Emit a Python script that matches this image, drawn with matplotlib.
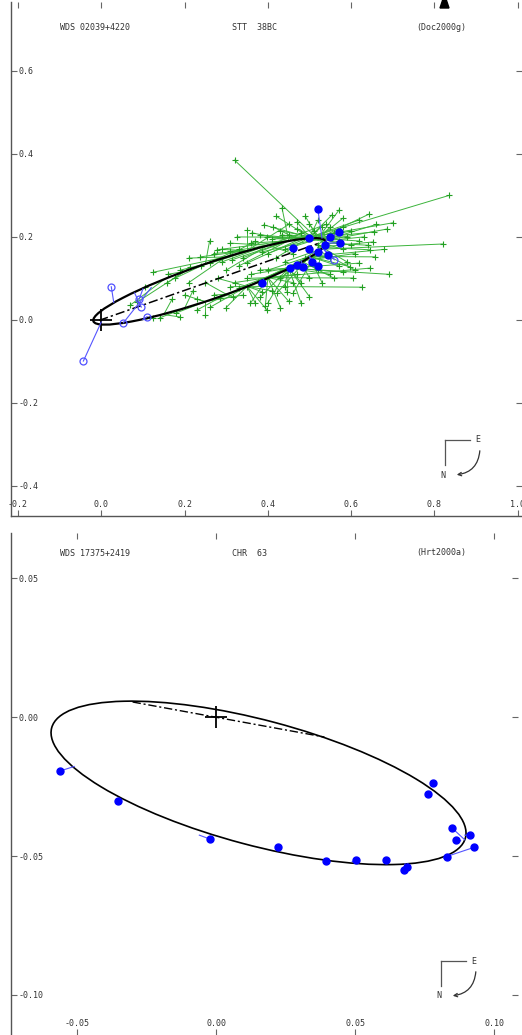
import matplotlib
matplotlib.use('Agg')
import matplotlib.pyplot as plt
from matplotlib.patches import Ellipse, Polygon, FancyArrowPatch

plt.rcParams['font.family'] = ['DejaVu Sans Mono']
plt.rcParams['axes.unicode_minus'] = False

# ---- panel 1 : WDS 02039+4220  STT 38BC ----
title1 = ['WDS 02039+4220', 'STT  38BC', '(Doc2000g)']
xticks1 = [-0.2, 0.0, 0.2, 0.4, 0.6, 0.8, 1.0]
yticks1 = [-0.4, -0.2, 0.0, 0.2, 0.4, 0.6]
# apparent orbit: centre, full axes, position angle of major axis
orbit1_center = (0.26, 0.093)
orbit1_width = 0.59
orbit1_height = 0.086
orbit1_angle = 19.0
nodes1_x = [-0.005, 0.52]
nodes1_y = [-0.001, 0.184]

# micrometer measures (observed) and their computed positions
green_ox = [0.125, 0.105, 0.158, 0.178, 0.21, 0.214, 0.238, 0.26, 0.262, 0.278,
            0.31, 0.314, 0.326, 0.35, 0.35, 0.362, 0.386, 0.39, 0.398, 0.413,
            0.434, 0.434, 0.47, 0.55, 0.554, 0.571, 0.62, 0.643, 0.70, 0.686,
            0.655, 0.653, 0.646, 0.657, 0.62, 0.598, 0.646, 0.58, 0.605, 0.32,
            0.835, 0.820, 0.690, 0.626, 0.07, 0.086, 0.125, 0.14, 0.18, 0.19,
            0.23, 0.25, 0.262, 0.286, 0.317, 0.33, 0.35, 0.358, 0.37, 0.377,
            0.382, 0.394, 0.398, 0.40, 0.422, 0.446, 0.461, 0.50, 0.386, 0.30,
            0.33, 0.42, 0.44, 0.46, 0.48, 0.50, 0.52, 0.28, 0.25, 0.22,
            0.20, 0.17, 0.32, 0.36, 0.40, 0.43, 0.47, 0.52, 0.55, 0.57,
            0.58, 0.59, 0.60, 0.61, 0.56, 0.54, 0.49, 0.45, 0.42, 0.37,
            0.33, 0.29, 0.24, 0.19, 0.16, 0.30, 0.34, 0.43, 0.48, 0.53,
            0.56, 0.59, 0.63, 0.27, 0.31, 0.36, 0.38, 0.41, 0.43, 0.45,
            0.47, 0.51, 0.53, 0.58, 0.60, 0.62, 0.64, 0.61, 0.57, 0.55,
            0.50, 0.46, 0.44, 0.41, 0.38, 0.35, 0.31, 0.27, 0.23, 0.21,
            0.29, 0.34, 0.40, 0.44, 0.49, 0.52, 0.58, 0.66, 0.68, 0.45,
            0.48]
green_oy = [0.115, 0.080, 0.089, 0.101, 0.149, 0.128, 0.152, 0.19, 0.137, 0.169,
            0.185, 0.145, 0.20, 0.217, 0.137, 0.21, 0.164, 0.229, 0.20, 0.224,
            0.27, 0.205, 0.236, 0.224, 0.253, 0.265, 0.241, 0.255, 0.234, 0.219,
            0.212, 0.188, 0.169, 0.152, 0.137, 0.128, 0.125, 0.116, 0.101, 0.385,
            0.300, 0.183, 0.110, 0.079, 0.036, 0.043, 0.005, 0.005, 0.017, 0.007,
            0.024, 0.012, 0.031, 0.053, 0.055, 0.077, 0.08, 0.04, 0.04, 0.092,
            0.055, 0.034, 0.024, 0.041, 0.065, 0.067, 0.065, 0.056, 0.068, 0.12,
            0.13, 0.15, 0.17, 0.16, 0.21, 0.23, 0.24, 0.10, 0.09, 0.07,
            0.06, 0.05, 0.09, 0.11, 0.12, 0.10, 0.11, 0.12, 0.15, 0.19,
            0.17, 0.20, 0.18, 0.16, 0.21, 0.23, 0.25, 0.23, 0.25, 0.19,
            0.17, 0.17, 0.13, 0.12, 0.11, 0.03, 0.06, 0.03, 0.09, 0.09,
            0.10, 0.14, 0.20, 0.16, 0.165, 0.185, 0.205, 0.195, 0.215, 0.205,
            0.22, 0.215, 0.225, 0.225, 0.215, 0.19, 0.18, 0.12, 0.13, 0.11,
            0.10, 0.09, 0.08, 0.07, 0.12, 0.10, 0.08, 0.06, 0.05, 0.09,
            0.14, 0.15, 0.16, 0.14, 0.15, 0.18, 0.245, 0.23, 0.17, 0.045,
            0.04]
green_cx = [0.30, 0.15, 0.20, 0.25, 0.30, 0.20, 0.35, 0.25, 0.40, 0.45,
            0.40, 0.45, 0.50, 0.35, 0.48, 0.45, 0.52, 0.50, 0.52, 0.47,
            0.45, 0.53, 0.50, 0.52, 0.50, 0.52, 0.50, 0.52, 0.50, 0.53,
            0.45, 0.52, 0.53, 0.50, 0.45, 0.50, 0.40, 0.45, 0.40, 0.52,
            0.50, 0.52, 0.45, 0.35, 0.15, 0.20, 0.10, 0.20, 0.25, 0.15,
            0.30, 0.25, 0.35, 0.40, 0.30, 0.45, 0.50, 0.40, 0.35, 0.48,
            0.45, 0.40, 0.35, 0.45, 0.50, 0.45, 0.52, 0.45, 0.35, 0.40,
            0.45, 0.50, 0.52, 0.40, 0.45, 0.53, 0.50, 0.35, 0.30, 0.20,
            0.25, 0.15, 0.40, 0.45, 0.50, 0.48, 0.40, 0.53, 0.50, 0.52,
            0.53, 0.50, 0.52, 0.48, 0.45, 0.40, 0.52, 0.35, 0.50, 0.30,
            0.25, 0.35, 0.30, 0.25, 0.20, 0.35, 0.25, 0.40, 0.45, 0.50,
            0.48, 0.53, 0.53, 0.35, 0.40, 0.45, 0.48, 0.50, 0.52, 0.50,
            0.53, 0.52, 0.50, 0.53, 0.52, 0.50, 0.53, 0.52, 0.50, 0.45,
            0.48, 0.40, 0.45, 0.35, 0.45, 0.40, 0.35, 0.30, 0.25, 0.30,
            0.40, 0.45, 0.50, 0.52, 0.53, 0.53, 0.52, 0.53, 0.50, 0.40,
            0.45]
green_cy = [0.152, 0.097, 0.117, 0.135, 0.152, 0.117, 0.167, 0.135, 0.180, 0.191,
            0.180, 0.191, 0.199, 0.167, 0.196, 0.191, 0.195, 0.199, 0.195, 0.195,
            0.191, 0.190, 0.199, 0.196, 0.199, 0.196, 0.199, 0.196, 0.199, 0.190,
            0.191, 0.175, 0.175, 0.153, 0.125, 0.153, 0.102, 0.125, 0.102, 0.195,
            0.199, 0.170, 0.125, 0.081, 0.097, 0.117, 0.001, 0.028, 0.044, 0.013,
            0.062, 0.044, 0.081, 0.102, 0.062, 0.125, 0.153, 0.102, 0.081, 0.142,
            0.125, 0.102, 0.081, 0.125, 0.153, 0.125, 0.168, 0.125, 0.081, 0.180,
            0.191, 0.199, 0.195, 0.180, 0.191, 0.190, 0.199, 0.081, 0.062, 0.028,
            0.044, 0.013, 0.102, 0.125, 0.153, 0.142, 0.102, 0.175, 0.153, 0.175,
            0.186, 0.199, 0.196, 0.142, 0.191, 0.180, 0.196, 0.167, 0.199, 0.152,
            0.135, 0.167, 0.152, 0.135, 0.117, 0.081, 0.044, 0.102, 0.125, 0.153,
            0.142, 0.175, 0.190, 0.167, 0.180, 0.191, 0.196, 0.199, 0.196, 0.199,
            0.190, 0.196, 0.199, 0.190, 0.196, 0.199, 0.186, 0.168, 0.153, 0.125,
            0.142, 0.102, 0.125, 0.081, 0.125, 0.102, 0.081, 0.062, 0.044, 0.152,
            0.180, 0.191, 0.199, 0.168, 0.175, 0.190, 0.196, 0.190, 0.153, 0.102,
            0.125]

# speckle measures (filled) and their computed positions
blue1_ox = [0.52, 0.55, 0.57, 0.574, 0.50, 0.46, 0.50, 0.52, 0.538, 0.545,
            0.506, 0.52, 0.485, 0.47, 0.454, 0.386]
blue1_oy = [0.267, 0.20, 0.212, 0.186, 0.197, 0.174, 0.171, 0.164, 0.18, 0.157,
            0.14, 0.13, 0.128, 0.133, 0.125, 0.089]
blue1_cx = [0.53, 0.54, 0.54, 0.54, 0.51, 0.46, 0.51, 0.52, 0.535, 0.53,
            0.50, 0.50, 0.48, 0.47, 0.45, 0.39]
blue1_cy = [0.197, 0.19, 0.19, 0.185, 0.198, 0.18, 0.16, 0.168, 0.18, 0.175,
            0.153, 0.153, 0.142, 0.135, 0.125, 0.098]
# visual / interferometric measures (open circles)
open1_ox = [0.56, -0.043, 0.024, 0.091, 0.096, 0.053, 0.11]
open1_oy = [0.145, -0.099, 0.08, 0.05, 0.031, -0.007, 0.008]
open1_cx = [0.53, 0.0, 0.03, 0.10, 0.08, 0.12, 0.10]
open1_cy = [0.175, -0.005, 0.042, 0.075, 0.065, 0.078, 0.001]

# ---- panel 2 : WDS 17375+2419  CHR 63 ----
title2 = ['WDS 17375+2419', 'CHR  63', '(Hrt2000a)']
xticks2 = [-0.05, 0.00, 0.05, 0.10]
yticks2 = [-0.10, -0.05, 0.00, 0.05]
orbit2_center = (0.0153, -0.0237)
orbit2_width = 0.154
orbit2_height = 0.045
orbit2_angle = -14.9
nodes2_x = [-0.030, 0.039]
nodes2_y = [0.0054, -0.0072]

blue2_ox = [-0.0561, -0.0351, -0.0022, 0.0222, 0.0396, 0.0504, 0.061, 0.0676,
            0.0686, 0.0761, 0.0782, 0.083, 0.085, 0.0863, 0.0914, 0.0928]
blue2_oy = [-0.0194, -0.0302, -0.0439, -0.0469, -0.0517, -0.0514, -0.0516, -0.055,
            -0.0539, -0.0277, -0.0239, -0.0503, -0.040, -0.0442, -0.0426, -0.0469]
blue2_cx = [-0.051, -0.0345, -0.006, 0.022, 0.040, 0.049, 0.061, 0.068,
            0.069, 0.0765, 0.0785, 0.082, 0.0895, 0.088, 0.0895, 0.082]
blue2_cy = [-0.0178, -0.0298, -0.0425, -0.0468, -0.0513, -0.052, -0.0523, -0.0528,
            -0.0528, -0.0285, -0.0249, -0.0508, -0.0442, -0.0445, -0.0425, -0.0505]

W, H = 522, 1035
GREEN = '#3cb43c'
BLUE = '#0000ff'


def box(left, top, right, bottom):
    return [left / W, 1 - bottom / H, (right - left) / W, (bottom - top) / H]


def style_axes(ax, xt, yt, fmt, xlab_pad, show_bottom):
    for s in ['top', 'right']:
        ax.spines[s].set_visible(False)
    ax.spines['bottom'].set_visible(show_bottom)
    for s in ['left', 'bottom']:
        ax.spines[s].set_color('#555555')
        ax.spines[s].set_linewidth(1.0)
    ax.set_xticks(xt)
    ax.set_yticks(yt)
    ax.set_xticklabels([fmt % v for v in xt])
    ax.set_yticklabels([fmt % v for v in yt])
    ax.tick_params(direction='in', length=4.5, width=0.8, color='#666666',
                   top=True, right=True, labelsize=6, labelcolor='#333333')
    ax.tick_params(axis='y', pad=-5.2)
    ax.tick_params(axis='x', pad=xlab_pad)
    for lab in ax.get_yticklabels():
        lab.set_horizontalalignment('left')
    for lab in ax.get_xticklabels():
        lab.set_verticalalignment('bottom')


fig = plt.figure(figsize=(W / 100, H / 100), dpi=100)

# top panel
ax1 = fig.add_axes(box(11, 2, 522, 516))
ax1.set_xlim(-0.2168, 1.0103)
ax1.set_ylim(-0.4723, 0.766)
style_axes(ax1, xticks1, yticks1, '%.1f', -5.0, True)

for ox, oy, cx, cy in zip(green_ox, green_oy, green_cx, green_cy):
    ax1.plot([ox, cx], [oy, cy], color=GREEN, lw=0.7, zorder=1)
ax1.plot(green_ox, green_oy, '+', color='#22a022', ms=4, mew=0.8, zorder=1)

ax1.add_patch(Ellipse(orbit1_center, orbit1_width, orbit1_height, angle=orbit1_angle,
                      fill=False, ec='black', lw=1.6, zorder=2))
ax1.plot(nodes1_x, nodes1_y, color='black', lw=1.1, ls=(0, (6, 2, 1.5, 2)), zorder=2)
ax1.plot([0], [0], '+', color='black', ms=16, mew=1.3, zorder=3)

for ox, oy, cx, cy in zip(blue1_ox, blue1_oy, blue1_cx, blue1_cy):
    ax1.plot([ox, cx], [oy, cy], color='#5555ff', lw=0.8, zorder=3)
ax1.plot(blue1_ox, blue1_oy, 'o', color=BLUE, ms=5, zorder=4)
for ox, oy, cx, cy in zip(open1_ox, open1_oy, open1_cx, open1_cy):
    ax1.plot([ox, cx], [oy, cy], color='#5555ff', lw=0.8, zorder=3)
ax1.plot(open1_ox, open1_oy, 'o', mfc='none', mec='#5050ff', ms=5, mew=0.9, zorder=4)

# bottom panel
ax2 = fig.add_axes(box(11, 533, 518, 1035))
ax2.set_xlim(-0.07374, 0.10863)
ax2.set_ylim(-0.11439, 0.06619)
style_axes(ax2, xticks2, yticks2, '%.2f', -5.0, False)

ax2.add_patch(Ellipse(orbit2_center, orbit2_width, orbit2_height, angle=orbit2_angle,
                      fill=False, ec='black', lw=1.2, zorder=2))
ax2.plot(nodes2_x, nodes2_y, color='black', lw=1.0, ls=(0, (6, 2, 1.5, 2)), zorder=2)
ax2.plot([0], [0], '+', color='black', ms=16, mew=1.3, zorder=3)
for ox, oy, cx, cy in zip(blue2_ox, blue2_oy, blue2_cx, blue2_cy):
    ax2.plot([ox, cx], [oy, cy], color='#5555ff', lw=0.8, zorder=3)
ax2.plot(blue2_ox, blue2_oy, 'o', color=BLUE, ms=5, zorder=4)

# overlay in pixel units for headers and compass roses
ov = fig.add_axes([0, 0, 1, 1])
ov.set_xlim(0, W)
ov.set_ylim(H, 0)
ov.axis('off')

for title, y in [(title1, 27), (title2, 553)]:
    ov.text(60, y, title[0], fontsize=6, va='center', ha='left', color='#333333')
    ov.text(232, y, title[1], fontsize=6, va='center', ha='left', color='#333333')
    ov.text(416, y, title[2], fontsize=6, va='center', ha='left', color='#333333')

for x0, y0 in [(445, 440), (441, 961)]:
    ov.plot([x0, x0], [y0, y0 + 25], color='#555555', lw=0.9)
    ov.plot([x0, x0 + 25], [y0, y0], color='#555555', lw=0.9)
    ov.text(x0 + 33, y0, 'E', fontsize=6, ha='center', va='center', color='#333333')
    ov.text(x0 - 2, y0 + 35, 'N', fontsize=6, ha='center', va='center', color='#333333')
    ov.add_patch(FancyArrowPatch((x0 + 35, y0 + 8), (x0 + 9, y0 + 35),
                                 connectionstyle='arc3,rad=-0.45', arrowstyle='->',
                                 mutation_scale=6, color='#333333', lw=0.9))

ov.add_patch(Polygon([(440, 8), (443, -1), (446, -1), (449, 8)], closed=True,
                     color='black'))

plt.savefig('out.png', dpi=100)
